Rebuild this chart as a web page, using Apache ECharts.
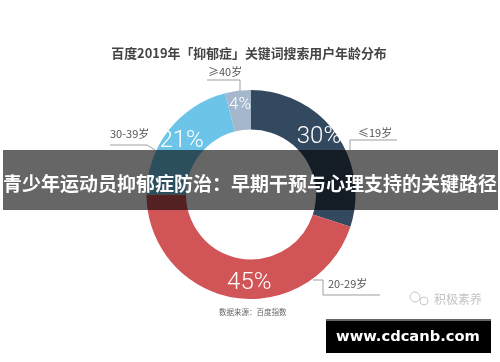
<!DOCTYPE html>
<html><head><meta charset="utf-8">
<style>html,body{margin:0;padding:0;background:#fff}#c{width:500px;height:362px}</style>
<script src="https://cdn.jsdelivr.net/npm/echarts@6/dist/echarts.min.js"></script>
</head><body><div id="c"></div>
<script>
const categories = ['≤19岁','20-29岁','30-39岁','≥40岁'];
const values = [30,45,21,4];
const colors = ['#33495f','#d15457','#6cc5e8','#a4b7cd'];
const chartTitle = '百度2019年「抑郁症」关键词搜索用户年龄分布';
const bannerTitle = '青少年运动员抑郁症防治：早期干预与心理支持的关键路径';
const sourceText = '数据来源：百度指数';
const watermark = '积极素养';
const siteText = 'www.cdcanb.com';
const font = '"Noto Sans CJK SC","Noto Sans",sans-serif';

const chart = echarts.init(document.getElementById('c'),null,{renderer:'canvas'});
const lab = (x,y,t)=>({type:'text',z:10,style:{x,y,text:t,font:'11px '+font,fill:'#555',textVerticalAlign:'middle'}});
const line = pts=>({type:'polyline',z:10,shape:{points:pts},style:{stroke:'#9aa0a6',lineWidth:1,fill:null}});
chart.setOption({
  animation:false,
  title:{text:chartTitle,left:244,top:42,textAlign:'center',
    textStyle:{fontFamily:font,fontSize:12.9,fontWeight:'bold',color:'#444'}},
  series:[{
    type:'pie',center:[251,194.5],radius:[65,104.5],startAngle:90,clockwise:true,
    silent:true,
    data:categories.map((n,i)=>({name:n,value:values[i],itemStyle:{color:colors[i]}})),
    label:{position:'inside',formatter:'{c}%',color:'#fff',fontFamily:'Roboto,sans-serif',fontWeight:300,fontSize:24},
    labelLine:{show:false},
    labelLayout:p=>p.dataIndex===1?{dx:12,dy:2}:(p.dataIndex===0?{dx:-3,dy:-6}:(p.dataIndex===3?{dy:-3,fontSize:17}:{}))
  }],
  graphic:[
    line([[350,150],[350,140],[397,140]]),
    line([[313,280],[323,280],[323,295],[380,295]]),
    line([[110,145],[147,145],[155,150]]),
    line([[207,80],[240,80],[240,91]]),
    lab(358,133,categories[0]),
    lab(328,284,categories[1]),
    lab(110,134,categories[2]),
    lab(208,72,categories[3]),
    {type:'text',z:10,style:{x:219,y:312,text:sourceText,font:'7.5px '+font,fill:'#666',textVerticalAlign:'middle'}},
    {type:'text',z:10,style:{x:434,y:299,text:watermark,font:'12px '+font,fill:'#c4c4c4',textVerticalAlign:'middle'}},
    {type:'circle',z:10,shape:{cx:415,cy:297,r:5},style:{fill:null,stroke:'#c8c8c8',lineWidth:1}},
    {type:'circle',z:10,shape:{cx:424,cy:301,r:4},style:{fill:null,stroke:'#c8c8c8',lineWidth:1}},
    {type:'rect',z:50,shape:{x:3,y:150,width:495,height:60},style:{fill:'rgba(0,0,0,0.6)'}},
    {type:'text',z:51,style:{x:250,y:184,text:bannerTitle,font:'bold 19px '+font,fill:'#fff',textAlign:'center',textVerticalAlign:'middle'}},
    {type:'rect',z:50,shape:{x:326,y:319,width:165,height:34},style:{fill:'#000'}},
    {type:'rect',z:50,shape:{x:326,y:319,width:165,height:2},style:{fill:'#666'}},
    {type:'text',z:51,style:{x:408,y:337,text:siteText,font:'bold 14.7px "DejaVu Sans",sans-serif',fill:'#fff',textAlign:'center',textVerticalAlign:'middle'}}
  ]
});
</script></body></html>
